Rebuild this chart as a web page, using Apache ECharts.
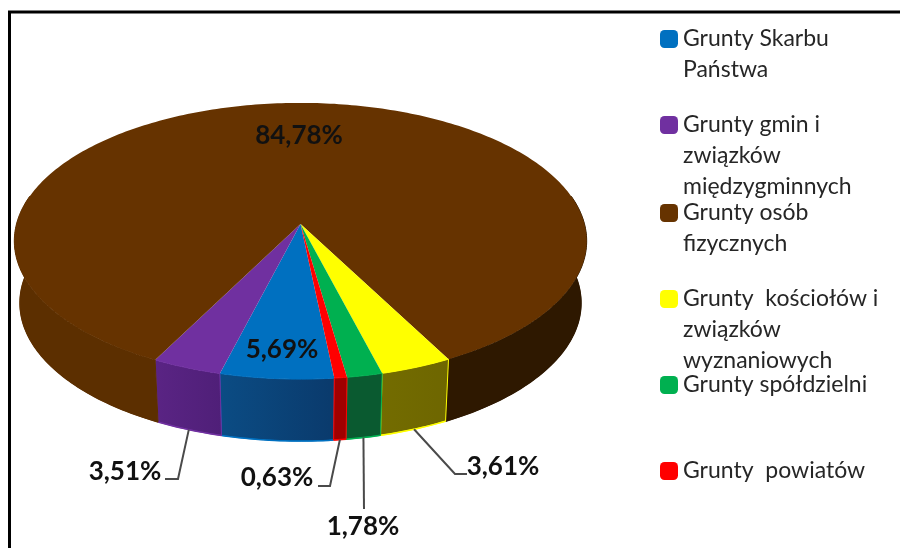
<!DOCTYPE html>
<html>
<head>
<meta charset="utf-8">
<style>html,body{margin:0;padding:0;background:#fff}#main{width:900px;height:548px}</style>
<script src="https://cdn.jsdelivr.net/npm/echarts@6/dist/echarts.min.js"></script>
</head>
<body>
<div id="main"></div>
<script>
// order as in the legend, clockwise on the pie
var names = ['Grunty Skarbu Państwa', 'Grunty gmin i związków międzygminnych', 'Grunty osób fizycznych', 'Grunty  kościołów i związków wyznaniowych', 'Grunty spółdzielni', 'Grunty  powiatów'];
var values = [5.69, 3.51, 84.78, 3.61, 1.78, 0.63];
var legendLines = [['Grunty Skarbu', 'Państwa'], ['Grunty gmin i', 'związków', 'międzygminnych'], ['Grunty osób', 'fizycznych'], ['Grunty  kościołów i', 'związków', 'wyznaniowych'], ['Grunty spółdzielni'], ['Grunty  powiatów']];
var colors = ['#0070c0', '#7030a0', '#663300', '#ffff00', '#00b050', '#ff0000'];
var wallColors = [['#0a3a6c', '#0b4c84'], ['#4f1f78', '#5a2484'], ['#5c2f00', '#2e1800'], ['#6e6600', '#736c00'], ['#0a5a30', '#0a5a30'], ['#a00000', '#a00000']];
var legendCenterY = [39, 125, 213, 299, 385, 471];

// pie geometry (perspective of the tilted disc)
var cx = 300.5, cy = 224, rx = 284, ry = 136, persp = 0.123, depth = 62, startAngle = 174;
var lineHeight = 31;
// label centres and leader elbows, by slice index
var labelPos = [[282, 350], [125, 472], [299, 136], [503, 467], [363, 527], [277, 478]];
var leaderPts = [null, [[178, 479], [165, 479]], null, [[455, 474], [467, 474]], [[364, 509]], [[330, 486], [318, 486]]];

function rim(phi, bottom) {
	var a = phi * Math.PI / 180, s = -Math.cos(a), c = Math.sin(a), w = 1 - persp * s;
	if (bottom) return [cx + rx * c / w * 0.98, cy + ry * s / w + depth];
	return [cx + rx * c / w, cy + ry * s / w];
}
function arc(a0, a1, bottom) {
	var pts = [], n = Math.max(2, Math.ceil(Math.abs(a1 - a0)));
	for (var i = 0; i <= n; i++) pts.push(rim(a0 + (a1 - a0) * i / n, bottom));
	return pts;
}
function wall(a0, a1, c0, c1, stroke) {
	var top = arc(a0, a1, false), bot = arc(a0, a1, true);
	return [{
		type: 'polygon', shape: {points: top.concat(bot.reverse())},
		style: {fill: new echarts.graphic.LinearGradient(0, 0, 1, 0, [{offset: 0, color: c1}, {offset: 1, color: c0}]), stroke: stroke, lineWidth: 1}
	}, {
		type: 'polyline', shape: {points: arc(a0, a1, true)},
		style: {fill: 'none', stroke: stroke, lineWidth: 1.5}
	}];
}
function pctText(v) { return v.toFixed(2).replace('.', ',') + '%'; }

function sliceRender(idx) {
	return function (params, api) {
		var total = values.reduce(function (a, b) { return a + b; }, 0), before = 0;
		for (var i = 0; i < idx; i++) before += values[i];
		var a0 = startAngle + before / total * 360, a1 = a0 + api.value(0) / total * 360;
		var kids = [];
		if (names[idx] === 'Grunty osób fizycznych') {
			// only the two visible ends of the big wall
			kids = kids.concat(wall(a0, 282, wallColors[idx][0], wallColors[idx][0], wallColors[idx][0]));
			kids = kids.concat(wall(438, a1, wallColors[idx][1], wallColors[idx][1], wallColors[idx][1]));
		} else {
			kids = kids.concat(wall(a0, a1, wallColors[idx][0], wallColors[idx][1], colors[idx]));
		}
		kids.push({type: 'polygon', shape: {points: [[cx, cy]].concat(arc(a0, a1, false))}, style: {fill: colors[idx]}});
		if (leaderPts[idx]) {
			var start = rim((a0 + a1) / 2, true);
			kids.push({type: 'polyline', shape: {points: [start].concat(leaderPts[idx])}, style: {fill: 'none', stroke: '#4a4a4a', lineWidth: 2}});
		}
		kids.push({
			type: 'text', z2: 10,
			style: {x: labelPos[idx][0], y: labelPos[idx][1], text: pctText(api.value(0)), fill: '#111', align: 'center', verticalAlign: 'middle', font: 'bold 26px Lato'}
		});
		return {type: 'group', children: kids};
	};
}

var series = names.map(function (name, i) {
	return {
		type: 'custom', name: name, coordinateSystem: 'none', data: [[values[i]]],
		itemStyle: {color: colors[i]}, renderItem: sliceRender(i)
	};
});
// blank lines above keep the icon level with the first text line
var legends = names.map(function (name, i) {
	var lines = legendLines[i], blanks = [], h = (lines.length * 2 - 1) * lineHeight;
	for (var k = 1; k < lines.length; k++) blanks.push(' ');
	return {
		data: [name], orient: 'vertical', left: 660, top: legendCenterY[i] - h / 2, padding: 0,
		itemWidth: 18, itemHeight: 18, icon: 'roundRect', selectedMode: false,
		textStyle: {fontFamily: 'Lato', fontSize: 23, color: '#262626', lineHeight: lineHeight},
		formatter: function () { return blanks.concat(lines).join('\n'); }
	};
});

var chart = echarts.init(document.getElementById('main'));
chart.setOption({
	animation: false,
	backgroundColor: '#fff',
	tooltip: {trigger: 'item', formatter: function (p) { return p.seriesName + ': ' + pctText(p.value[0]); }},
	legend: legends,
	graphic: [{type: 'rect', silent: true, shape: {x: 9.5, y: 12, width: 1000, height: 1000}, style: {fill: 'none', stroke: '#000', lineWidth: 3}}],
	series: series
});
</script>
</body>
</html>
